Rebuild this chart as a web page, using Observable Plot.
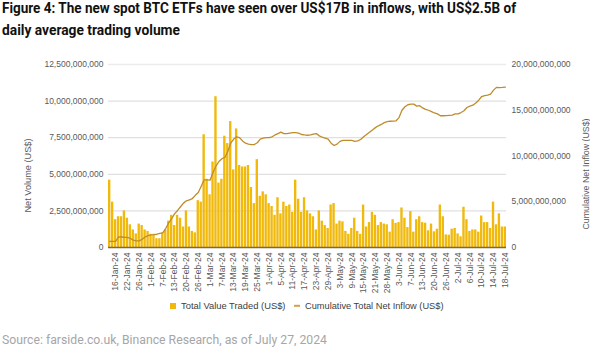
<!DOCTYPE html>
<html>
<head>
<meta charset="utf-8">
<script src="https://cdn.jsdelivr.net/npm/d3@7"></script>
<script src="https://cdn.jsdelivr.net/npm/@observablehq/plot@0.6"></script>
<style>
  html, body { margin: 0; padding: 0; background: #fff; }
  #wrap { position: relative; width: 590px; height: 355px; overflow: hidden; }
  #chart, #overlay { position: absolute; left: 0; top: 0; }
</style>
</head>
<body>
<div id="wrap">
  <div id="chart"></div>
  <svg id="overlay" width="590" height="355"></svg>
</div>
<script>
// ---- Data (values in US$ billions) ----
const title1 = "Figure 4: The new spot BTC ETFs have seen over US$17B in inflows, with US$2.5B of";
const title2 = "daily average trading volume";
const sourceText = "Source: farside.co.uk, Binance Research, as of July 27, 2024";
const leftAxisTitle = "Net Volume (US$)";
const rightAxisTitle = "Cumulative Net Inflow (US$)";
const seriesNames = ["Total Value Traded (US$)", "Cumulative Total Net Inflow (US$)"];

// Tick labels, one every 4th trading day starting at the 3rd day
const tickLabels = ["16-Jan-24","22-Jan-24","26-Jan-24","1-Feb-24","7-Feb-24","13-Feb-24","20-Feb-24","26-Feb-24",
  "1-Mar-24","7-Mar-24","13-Mar-24","19-Mar-24","25-Mar-24","1-Apr-24","5-Apr-24","11-Apr-24","17-Apr-24",
  "23-Apr-24","29-Apr-24","3-May-24","9-May-24","15-May-24","21-May-24","28-May-24","3-Jun-24","7-Jun-24",
  "13-Jun-24","20-Jun-24","26-Jun-24","2-Jul-24","6-Jul-24","10-Jul-24","14-Jul-24","18-Jul-24"];

// Daily total value traded (US$ B)
const volume = [
  4.6,3.1,1.9,2.1,2.1,2.5,2.0,1.55,1.2,0.93,1.6,1.5,1.2,1.1,0.9,0.9,0.6,0.6,1.0,1.2,1.8,2.2,1.5,2.2,2.0,1.4,2.5,1.4,1.1,1.0,3.2,3.1,7.7,
  4.66,3.6,5.84,10.3,4.4,4.66,7.6,7.1,8.6,5.3,8.1,5.6,5.5,5.5,5.6,4.1,3.0,6.0,3.5,3.8,3.6,3.0,2.8,2.2,3.4,2.3,3.1,2.8,2.9,2.4,4.6,3.3,2.4,3.4,
  2.5,2.3,2.1,1.2,2.5,1.8,1.5,1.3,2.9,3.0,1.6,1.8,1.75,1.1,0.9,1.3,2.0,1.1,0.9,2.9,1.4,1.7,2.4,2.2,1.5,1.7,1.6,1.55,1.05,1.9,1.65,1.7,2.7,2.0,
  1.36,2.45,1.05,1.9,2.1,1.7,1.66,1.14,1.6,1.07,1.25,2.9,2.1,0.86,0.84,1.25,1.3,0.93,0.73,2.75,1.9,1.1,1.2,1.2,1.05,2.15,1.7,1.7,1.3,3.1,1.55,2.3,1.4,1.4
];

// Cumulative total net inflow (US$ B)
const cumInflow = [
  0.66,0.66,0.66,1.15,1.15,1.12,1.1,1.0,0.8,0.73,0.73,0.9,1.15,1.3,1.38,1.4,1.45,1.55,1.6,2.1,
  2.7,3.15,3.7,4.05,4.45,4.85,5.1,5.2,5.35,5.7,6.0,6.7,7.4,7.4,7.36,8.2,8.9,9.4,9.7,9.84,
  10.5,11.4,11.85,12.1,12.0,11.65,11.4,11.3,11.25,11.25,11.45,11.85,11.95,12.0,12.0,12.1,12.3,12.45,12.6,12.45,
  12.45,12.5,12.55,12.55,12.5,12.35,12.3,12.27,12.3,12.4,12.45,12.2,12.05,11.95,11.85,11.4,11.15,11.3,11.6,11.7,
  11.7,11.7,11.7,11.6,11.65,11.8,12.1,12.35,12.6,12.85,13.1,13.3,13.45,13.65,13.75,13.8,13.82,13.85,14.2,15.0,
  15.38,15.6,15.67,15.67,15.45,15.5,15.25,15.1,15.0,14.85,14.7,14.6,14.4,14.4,14.42,14.45,14.46,14.6,14.6,14.75,
  14.95,15.3,15.45,15.55,15.8,16.1,16.5,16.6,16.65,16.75,17.2,17.5,17.48,17.5,17.53
];

const leftTicks = [0, 2.5, 5, 7.5, 10, 12.5];
const rightTicks = [0, 5, 10, 15, 20];

// ---- Styling ----
const barColor = "#F0B90B";
const lineColor = "#BF8C2C";
const textColor = "#595959";
const fmt = d3.format(",");
const toLeft = 12.5 / 20; // right-axis units -> left-axis units

const idx = d3.range(volume.length);
const tickIdx = tickLabels.map((_, k) => 2 + 4 * k);

const chart = Plot.plot({
  width: 590,
  height: 355,
  marginTop: 64,
  marginBottom: 108,
  marginLeft: 108,
  marginRight: 84,
  style: { fontFamily: "'Liberation Sans', Arial, sans-serif", fontSize: "8.5px", color: textColor, background: "transparent" },
  x: { type: "band", domain: idx, paddingInner: 0.2, paddingOuter: 0 },
  y: { domain: [0, 12.5], nice: false },
  marks: [
    Plot.ruleY(leftTicks.slice(0, -1), { stroke: "#d9d9d9", strokeWidth: 1 }),
    Plot.ruleY(leftTicks.slice(-1), { stroke: "#ececec", strokeWidth: 1.5 }),
    Plot.barY(idx, { x: i => i, y: i => volume[i], fill: barColor }),
    Plot.line(idx, { x: i => i, y: i => cumInflow[i] * toLeft, stroke: lineColor, strokeWidth: 1.3 }),
    Plot.ruleY([0], { stroke: "#7d6a3c", strokeWidth: 1.5 }),
    Plot.axisY(leftTicks, { anchor: "left", tickSize: 0, tickPadding: 5, tickFormat: d => fmt(Math.round(d * 1e9)), label: null }),
    Plot.axisY(rightTicks.map(r => r * toLeft), { anchor: "right", tickSize: 0, tickPadding: 5, tickFormat: d => fmt(Math.round(d / toLeft * 1e9)), label: null }),
    Plot.axisX(tickIdx, { anchor: "bottom", tickSize: 0, tickPadding: 5, tickRotate: -90, tickFormat: i => tickLabels[tickIdx.indexOf(i)], label: null })
  ]
});
document.getElementById("chart").appendChild(chart);

// ---- Overlay text: titles, axis titles, legend, source ----
const ov = d3.select("#overlay");
ov.append("text").attr("x", 2).attr("y", 12.7).attr("textLength", 514).attr("lengthAdjust", "spacingAndGlyphs")
  .attr("font-family", "Roboto, 'Liberation Sans', sans-serif").attr("font-weight", 700).attr("font-size", 14.3).attr("fill", "#111").text(title1);
ov.append("text").attr("x", 2).attr("y", 35.3).attr("textLength", 178).attr("lengthAdjust", "spacingAndGlyphs")
  .attr("font-family", "Roboto, 'Liberation Sans', sans-serif").attr("font-weight", 700).attr("font-size", 14.3).attr("fill", "#111").text(title2);

ov.append("text").attr("transform", "translate(30.5,175.5) rotate(-90)").attr("text-anchor", "middle")
  .attr("font-family", "'Liberation Sans', Arial, sans-serif").attr("font-size", 9.2).attr("fill", textColor).text(leftAxisTitle);
ov.append("text").attr("transform", "translate(588.5,174) rotate(-90)").attr("text-anchor", "middle")
  .attr("font-family", "'Liberation Sans', Arial, sans-serif").attr("font-size", 8.8).attr("fill", textColor).text(rightAxisTitle);

// legend
ov.append("rect").attr("x", 170).attr("y", 303).attr("width", 6).attr("height", 6).attr("fill", barColor);
ov.append("text").attr("x", 181).attr("y", 309.3).attr("textLength", 104.5).attr("lengthAdjust", "spacingAndGlyphs")
  .attr("font-family", "'Liberation Sans', Arial, sans-serif").attr("font-size", 9.3).attr("fill", "#404040").text(seriesNames[0]);
ov.append("line").attr("x1", 294).attr("x2", 300).attr("y1", 305.8).attr("y2", 305.8).attr("stroke", "#D4A040").attr("stroke-width", 2);
ov.append("text").attr("x", 305).attr("y", 309.3).attr("textLength", 138.5).attr("lengthAdjust", "spacingAndGlyphs")
  .attr("font-family", "'Liberation Sans', Arial, sans-serif").attr("font-size", 9.3).attr("fill", "#404040").text(seriesNames[1]);

// source
ov.append("text").attr("x", 2).attr("y", 344).attr("textLength", 325).attr("lengthAdjust", "spacingAndGlyphs")
  .attr("font-family", "Roboto, 'Liberation Sans', sans-serif").attr("font-size", 12).attr("fill", "#a6a6a6").text(sourceText);
</script>
</body>
</html>
